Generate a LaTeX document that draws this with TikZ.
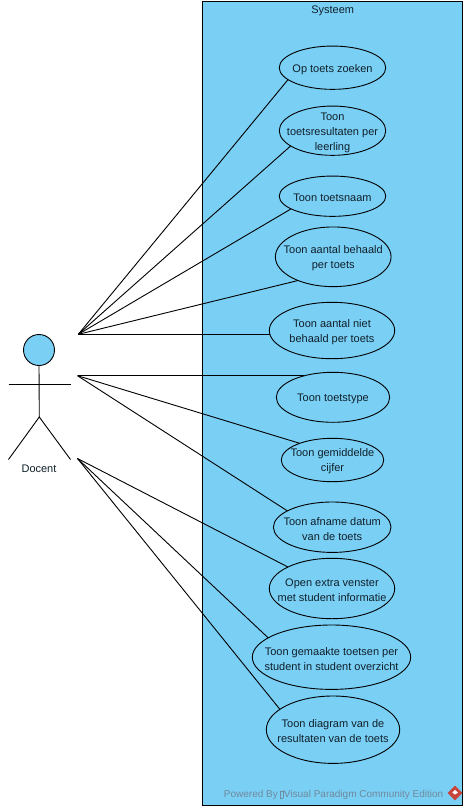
\documentclass[tikz,border=0pt]{standalone}
\usepackage{fontspec}
\setmainfont{Liberation Sans}
\usetikzlibrary{shapes.geometric}
\definecolor{vpblue}{HTML}{7ACFF5}
\definecolor{vpink}{HTML}{10202A}
\definecolor{vpgray}{HTML}{6F8A9C}
\definecolor{vpred}{HTML}{C8453C}
\tikzset{
  ucase/.style={ellipse,draw=black,fill=vpblue,line width=.9pt,inner sep=0pt,outer sep=0pt},
  uctext/.style={align=center,font=\fontsize{11}{15}\selectfont,text=vpink,inner sep=0pt},
  assoc/.style={draw=black,line width=.9pt},
  sysbox/.style={draw=black,fill=vpblue,line width=1pt},
  limb/.style={draw=black,line width=.9pt},
}
\newcommand{\ucnode}[6]{%
  \node[ucase,minimum width=#3pt,minimum height=#4pt] (#1) at (#2) {};
  \node[uctext] (#1t) at ([yshift=-#6pt]#1.center) {#5};
}
\begin{document}
\begin{tikzpicture}[x=1pt,y=-1pt]
\useasboundingbox (0,0) rectangle (467,811);
\node[sysbox,minimum width=259.6pt,minimum height=804pt,inner sep=0pt,outer sep=0pt] (sys) at (332.5,403) {};
\node[uctext] (systitle) at (332.7,11) {Systeem};

\ucnode{e1}{332.5,67.7}{106.5}{43.3}{Op toets zoeken}{1.6}
\ucnode{e2}{332.5,130.7}{106.5}{49.3}{Toon\\toetsresultaten per\\leerling}{2.6}
\ucnode{e3}{332.5,196.2}{106.5}{40.3}{Toon toetsnaam}{1.2}
\ucnode{e4}{333.2,256.8}{115.7}{59.7}{Toon aantal behaald\\per toets}{1.8}
\ucnode{e5}{332,330.5}{125.4}{56.4}{Toon aantal niet\\behaald per toets}{1.7}
\ucnode{e6}{333,397.3}{113.4}{50}{Toon toetstype}{1.5}
\ucnode{e7}{332.5,460}{102.4}{43.4}{Toon gemiddelde\\cijfer}{0.8}
\ucnode{e8}{332.2,527.2}{117.6}{50.4}{Toon afname datum\\van de toets}{1.6}
\ucnode{e9}{332,588.5}{125.4}{60.4}{Open extra venster\\met student informatie}{1.3}
\ucnode{e10}{331.5,657.2}{158.4}{64.4}{Toon gemaakte toetsen per\\student in student overzicht}{1.5}
\ucnode{e11}{333,729.7}{133.4}{67.4}{Toon diagram van de\\resultaten van de toets}{1.1}

% actor
\node[circle,draw=black,fill=vpblue,line width=.9pt,minimum size=31pt,inner sep=0pt,outer sep=0pt] (head) at (39,350) {};
\coordinate (hip) at (39.3,417);
\coordinate (armL) at (8.5,384.5);
\coordinate (armR) at (70.5,384.5);
\coordinate (footL) at (8.5,459.5);
\coordinate (footR) at (70.5,459.5);
\draw[limb] (head.south) -- (hip);
\draw[limb] (armL) -- (armR);
\draw[limb] (footL) -- (hip) -- (footR);
\node[uctext] (docent) at (39,468.5) {Docent};

% connector origins
\coordinate (a) at (78.3,334.3);
\coordinate (b) at (77.5,375.7);
\coordinate (c) at (77.5,458.5);
\draw[assoc] (a) -- (e1.195);
\draw[assoc] (a) -- (e2.200.3);
\draw[assoc] (a) -- (e3.197.4);
\draw[assoc] (a) -- (e4.214.7);
\draw[assoc] (a) -- (a -| e5.183.5);
\draw[assoc] (b) -- (b -| e6.144);
\draw[assoc] (b) -- (e7.153.9);
\draw[assoc] (b) -- (e8.160.2);
\draw[assoc] (c) -- (e9.154);
\draw[assoc] (c) -- (e10.163.5);
\draw[assoc] (c) -- (e11.159.9);

% watermark
\node[font=\fontsize{10}{12}\selectfont,text=vpgray,inner sep=0pt,anchor=east] (wm) at (443.5,795) {Powered By\hspace{2pt}{\fboxsep=0pt\fboxrule=.3pt\fcolorbox{vpgray}{vpblue}{\phantom{\rule{2.5pt}{6.5pt}}}}\hspace{1pt}Visual Paradigm Community Edition};
\node[diamond,fill=vpred,minimum size=15pt,inner sep=0pt] (logo) at (455,793) {};
\fill[white] (455,790) -- (458,792.5) -- (455,794.5) -- (452.3,792.5) -- cycle;
\end{tikzpicture}
\end{document}
